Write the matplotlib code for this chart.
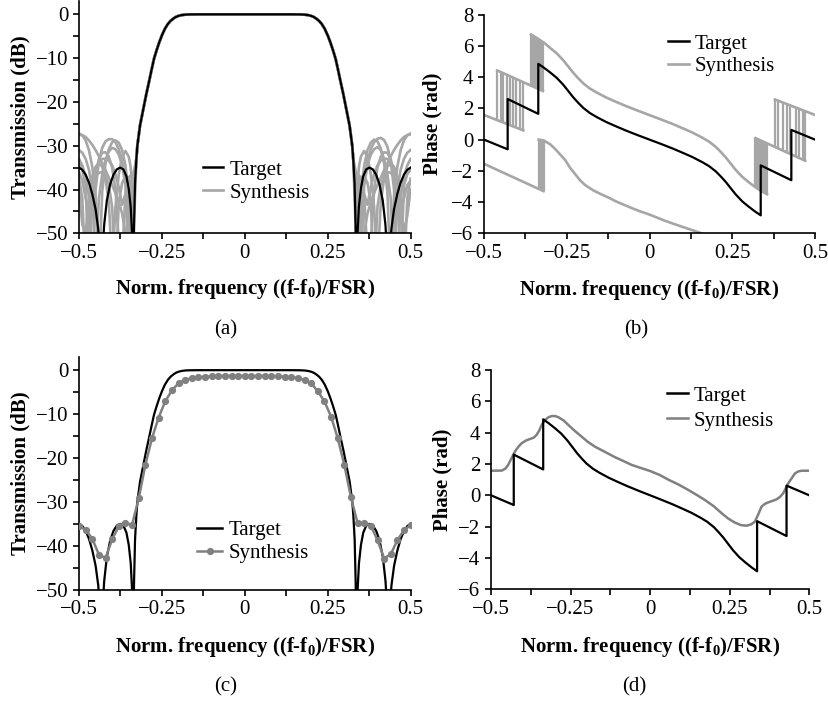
import numpy as np
import matplotlib
matplotlib.use("Agg")
import matplotlib.pyplot as plt
from matplotlib.ticker import FixedLocator
from matplotlib.lines import Line2D

plt.rcParams['font.family'] = ['Liberation Serif', 'DejaVu Serif']
plt.rcParams['mathtext.fontset'] = 'custom'
plt.rcParams['mathtext.rm'] = 'Liberation Serif'
plt.rcParams['mathtext.bf'] = 'Liberation Serif:bold'
plt.rcParams['mathtext.it'] = 'Liberation Serif:italic'

FS = 15
BLACK = '#000000'
GRAY_LIGHT = '#a6a6a6'
GRAY_DARK = '#808080'

# ---------------- data ----------------
x_ticks = [-0.5, -0.25, 0, 0.25, 0.5]
x_ticklabels = ['\u22120.5', '\u22120.25', '0', '0.25', '0.5']
x_minor = [-0.375, -0.125, 0.125, 0.375]
db_ticks = [0, -10, -20, -30, -40, -50]
db_minor = [-5, -15, -25, -35, -45]
ph_ticks = [8, 6, 4, 2, 0, -2, -4, -6]
xlabel_text = r'Norm. frequency ((f-f$_\mathbf{0}$)/FSR)'

# Target transmission (dB)
target_x = [-0.500, -0.490, -0.480, -0.470, -0.460, -0.450, -0.442, -0.437, -0.433, -0.429,
            -0.424, -0.416, -0.406, -0.396, -0.386, -0.376, -0.366, -0.357, -0.350, -0.344,
            -0.340, -0.337, -0.334, -0.331, -0.327, -0.324, -0.316, -0.306, -0.297, -0.288,
            -0.281, -0.274, -0.266, -0.258, -0.250, -0.241, -0.232, -0.224, -0.216, -0.208,
            -0.200, -0.190, -0.180, -0.165, -0.140, 0.000, 0.140, 0.165, 0.180, 0.190,
            0.200, 0.208, 0.216, 0.224, 0.232, 0.241, 0.250, 0.258, 0.266, 0.274,
            0.281, 0.288, 0.297, 0.306, 0.316, 0.324, 0.327, 0.331, 0.334, 0.337,
            0.340, 0.344, 0.350, 0.357, 0.366, 0.376, 0.386, 0.396, 0.406, 0.416,
            0.424, 0.429, 0.433, 0.437, 0.442, 0.450, 0.460, 0.470, 0.480, 0.490, 0.500]
target_db = [-35.0, -35.5, -36.6, -38.4, -41.0, -44.5, -49.0, -54.0, -65.0, -54.0,
             -48.0, -42.5, -38.8, -36.6, -35.4, -35.0, -35.4, -37.0, -39.8, -44.0,
             -50.0, -65.0, -48.0, -38.5, -33.0, -30.0, -25.4, -21.6, -18.2, -15.1,
             -12.6, -10.2, -8.2, -6.4, -4.8, -3.3, -2.2, -1.5, -1.0, -0.6,
             -0.35, -0.17, -0.07, -0.02, 0.0, 0.0, 0.0, -0.02, -0.07, -0.17,
             -0.35, -0.6, -1.0, -1.5, -2.2, -3.3, -4.8, -6.4, -8.2, -10.2,
             -12.6, -15.1, -18.2, -21.6, -25.4, -30.0, -33.0, -38.5, -48.0, -65.0,
             -50.0, -44.0, -39.8, -37.0, -35.4, -35.0, -35.4, -36.6, -38.8, -42.5,
             -48.0, -54.0, -65.0, -54.0, -49.0, -44.5, -41.0, -38.4, -36.6, -35.5, -35.0]

# Synthesis trials (a): stop-band values, left and right
syn_left_x = [-0.50, -0.49, -0.48, -0.47, -0.46, -0.45, -0.44, -0.43, -0.42, -0.41,
              -0.40, -0.39, -0.38, -0.37, -0.36, -0.35, -0.345, -0.34, -0.335]
syn_right_x = [0.335, 0.34, 0.345, 0.35, 0.36, 0.37, 0.38, 0.39, 0.40, 0.41,
               0.42, 0.43, 0.44, 0.45, 0.46, 0.47, 0.48, 0.49, 0.50]
syn_left_db = [
    [-27.2, -27.6, -28.8, -31.0, -34.8, -41.5, -60.0, -40.5, -34.0, -30.8, -29.2, -28.8, -29.3, -31.0, -34.5, -41.0, -47.0, -60.0, -42.0],
    [-27.5, -27.6, -28.0, -28.8, -29.8, -31.0, -32.4, -34.0, -35.6, -37.3, -39.0, -40.8, -42.8, -45.5, -50.0, -60.0, -50.0, -44.0, -40.0],
    [-31.0, -31.6, -33.0, -35.5, -40.0, -58.0, -42.0, -36.5, -33.2, -31.3, -30.5, -30.8, -32.0, -34.5, -39.0, -58.0, -45.0, -39.0, -36.0],
    [-34.0, -35.5, -39.0, -60.0, -40.0, -35.5, -33.8, -33.0, -33.0, -33.4, -34.5, -36.5, -39.5, -43.5, -41.0, -37.5, -36.8, -37.5, -40.0],
    [-36.0, -38.0, -42.0, -45.0, -42.5, -36.5, -33.0, -31.6, -31.5, -32.5, -35.0, -40.0, -52.0, -55.0, -41.5, -38.5, -38.3, -39.5, -42.0],
    [-37.5, -42.0, -60.0, -44.0, -39.0, -37.0, -36.2, -36.0, -36.8, -39.0, -44.0, -60.0, -43.0, -38.5, -37.0, -37.2, -38.5, -41.0, -46.0],
    [-40.0, -48.0, -50.0, -42.0, -37.0, -34.8, -34.0, -34.8, -37.5, -43.0, -58.0, -44.0, -36.5, -32.5, -31.2, -32.5, -34.5, -38.0, -50.0],
    [-33.0, -34.5, -37.0, -41.5, -60.0, -40.0, -33.5, -30.5, -29.0, -28.5, -28.5, -29.2, -30.8, -33.5, -38.0, -47.0, -60.0, -45.0, -39.0],
]
syn_right_db = [
    [-42.0, -60.0, -47.0, -41.0, -34.5, -31.0, -29.3, -28.6, -29.0, -30.6, -34.0, -40.5, -60.0, -41.5, -34.8, -31.0, -28.8, -27.6, -27.2],
    [-40.0, -44.0, -50.0, -60.0, -50.0, -45.5, -42.8, -40.8, -39.0, -37.3, -35.6, -34.0, -32.4, -31.0, -29.8, -28.8, -28.0, -27.6, -27.4],
    [-36.0, -39.0, -45.0, -58.0, -39.0, -34.5, -32.0, -30.8, -30.3, -31.0, -33.0, -36.5, -42.0, -58.0, -40.0, -35.5, -33.0, -31.6, -31.0],
    [-40.0, -37.5, -36.8, -37.5, -41.0, -43.5, -39.5, -36.5, -34.5, -33.4, -33.0, -33.0, -33.8, -35.5, -40.0, -60.0, -39.0, -36.5, -35.5],
    [-42.0, -39.5, -38.3, -38.5, -41.5, -55.0, -52.0, -40.0, -35.0, -32.5, -31.5, -31.6, -33.0, -36.5, -42.5, -45.0, -42.0, -39.0, -38.0],
    [-46.0, -41.0, -38.5, -37.2, -37.0, -38.5, -43.0, -60.0, -44.0, -39.0, -36.8, -36.0, -36.2, -37.0, -39.0, -44.0, -60.0, -42.0, -37.5],
    [-50.0, -38.0, -34.5, -32.5, -31.2, -32.5, -36.5, -44.0, -58.0, -43.0, -37.5, -34.8, -34.0, -34.8, -37.0, -42.0, -50.0, -46.0, -40.0],
    [-39.0, -45.0, -60.0, -47.0, -38.0, -33.5, -30.8, -29.2, -28.4, -28.2, -28.7, -30.2, -33.5, -40.0, -60.0, -41.5, -37.0, -34.5, -33.0],
]

# Synthesis (c): sampled every 0.02
syn_c_x = np.linspace(-0.5, 0.5, 51)
syn_c_db = [-35.6, -36.3, -38.4, -42.0, -42.8, -38.5, -35.6, -34.8, -35.2, -29.2,
            -21.6, -15.5, -10.8, -7.1, -4.6, -3.0, -2.2, -1.8, -1.6, -1.5,
            -1.4, -1.35, -1.3, -1.3, -1.3, -1.3, -1.3, -1.3, -1.3, -1.35,
            -1.4, -1.5, -1.6, -1.8, -2.2, -3.0, -4.8, -7.1, -10.6, -15.5,
            -21.6, -29.0, -34.9, -34.7, -35.5, -38.7, -42.9, -41.9, -38.7, -36.4, -35.3]

# Target phase (rad)
phase_x = [-0.500, -0.4285, -0.4285, -0.336, -0.336, -0.320, -0.300, -0.280, -0.260, -0.245,
           -0.230, -0.215, -0.200, -0.180, -0.160, -0.130, -0.100, -0.070, -0.035, 0.000,
           0.035, 0.070, 0.100, 0.130, 0.160, 0.180, 0.200, 0.215, 0.230, 0.245,
           0.260, 0.280, 0.300, 0.320, 0.336, 0.336, 0.4285, 0.4285, 0.500]
phase_target = [0.00, -0.62, 2.60, 1.65, 4.85, 4.62, 4.30, 3.95, 3.50, 3.10,
                2.70, 2.35, 2.03, 1.70, 1.45, 1.12, 0.84, 0.57, 0.28, 0.00,
                -0.28, -0.57, -0.84, -1.12, -1.45, -1.70, -2.03, -2.35, -2.70, -3.10,
                -3.50, -3.95, -4.30, -4.62, -4.85, -1.65, -2.60, 0.62, 0.00]

# Synthesis phase trials (b): branches and the jumps between them
branch_A_x = [-0.500, -0.3813]
branch_A_y = [1.58, 0.59]
branch_B_x = [-0.460, -0.322]
branch_B_y = [4.43, 3.11]
branch_C_x = [-0.358, -0.336, -0.316, -0.300, -0.280, -0.260, -0.245, -0.230, -0.215, -0.200,
              -0.180, -0.160, -0.130, -0.100, -0.070, -0.035, 0.000, 0.035, 0.070, 0.100,
              0.130, 0.160, 0.180, 0.200, 0.215, 0.230, 0.245, 0.260, 0.280, 0.300,
              0.320, 0.336, 0.355]
branch_C_y = [6.74, 6.45, 6.16, 5.87, 5.52, 5.07, 4.67, 4.27, 3.92, 3.60,
              3.27, 3.02, 2.69, 2.41, 2.14, 1.85, 1.57, 1.29, 1.00, 0.73,
              0.45, 0.12, -0.13, -0.46, -0.78, -1.13, -1.53, -1.93, -2.38, -2.73,
              -3.05, -3.28, -3.50]
branch_D_x = [0.320, 0.470]
branch_D_y = [0.10, -1.35]
branch_E_x = [0.379, 0.500]
branch_E_y = [2.57, 1.58]
branch_L1_x = [-0.500, -0.320]
branch_L1_y = [-1.55, -3.30]
branch_L2_x = [-0.335, -0.320, -0.300, -0.285, -0.270, -0.255, -0.240, -0.225, -0.210, -0.195,
               -0.170, -0.144, -0.120, -0.104, -0.080, -0.054, -0.030, 0.000, 0.047, 0.097, 0.148, 0.170]
branch_L2_y = [0.00, -0.05, -0.30, -0.60, -0.95, -1.30, -1.80, -2.20, -2.60, -2.90,
               -3.25, -3.52, -3.75, -3.93, -4.15, -4.38, -4.58, -4.80, -5.20, -5.57, -5.93, -6.10]
jump_x = [-0.460, -0.4496, -0.4417, -0.4296, -0.4215, -0.4115, -0.4033, -0.3912, -0.3813,
          -0.358, -0.352, -0.347, -0.343, -0.338, -0.333, -0.328, -0.322,
          0.320, 0.325, 0.330, 0.335, 0.340, 0.345, 0.350, 0.355,
          0.379, 0.389, 0.404, 0.414, 0.424, 0.443, 0.453, 0.465, 0.470,
          -0.335, -0.330, -0.325, -0.320]
jump_lo = [1.25, 1.16, 1.09, 0.99, 0.93, 0.84, 0.77, 0.67, 0.59,
           3.45, 3.40, 3.35, 3.31, 3.26, 3.21, 3.17, 3.11,
           -3.05, -3.12, -3.19, -3.26, -3.32, -3.38, -3.44, -3.50,
           -0.47, -0.57, -0.71, -0.81, -0.91, -1.09, -1.19, -1.30, -1.35,
           -3.15, -3.20, -3.25, -3.30]
jump_hi = [4.43, 4.33, 4.26, 4.14, 4.06, 3.97, 3.89, 3.77, 3.68,
           6.74, 6.66, 6.60, 6.55, 6.48, 6.42, 6.35, 6.26,
           0.10, 0.05, 0.00, -0.05, -0.09, -0.14, -0.19, -0.24,
           2.57, 2.49, 2.36, 2.28, 2.20, 2.05, 1.96, 1.87, 1.83,
           0.00, 0.00, 0.00, -0.05]

# Synthesis phase (d)
phase_d_x = [-0.500, -0.466, -0.455, -0.446, -0.436, -0.425, -0.414, -0.404, -0.390, -0.377,
             -0.366, -0.357, -0.348, -0.341, -0.334, -0.328, -0.318, -0.309, -0.298, -0.288,
             -0.272, -0.257, -0.236, -0.215, -0.195, -0.173, -0.140, -0.110, -0.080, -0.058,
             -0.030, 0.000, 0.030, 0.057, 0.090, 0.120, 0.150, 0.172, 0.200, 0.225,
             0.245, 0.266, 0.285, 0.303, 0.318, 0.329, 0.340, 0.350, 0.360, 0.371,
             0.385, 0.397, 0.408, 0.418, 0.426, 0.434, 0.445, 0.455, 0.466, 0.476, 0.500]
phase_d_syn = [1.57, 1.58, 1.70, 1.94, 2.35, 2.79, 3.10, 3.32, 3.50, 3.60,
               3.68, 3.85, 4.15, 4.49, 4.70, 4.85, 5.00, 5.06, 5.06, 4.98,
               4.78, 4.49, 4.10, 3.74, 3.40, 3.10, 2.75, 2.43, 2.15, 1.94,
               1.75, 1.55, 1.30, 1.00, 0.68, 0.34, -0.02, -0.30, -0.70, -1.15,
               -1.48, -1.74, -1.90, -1.94, -1.85, -1.68, -1.20, -0.72, -0.55, -0.45,
               -0.35, -0.26, -0.10, 0.13, 0.45, 0.77, 1.10, 1.40, 1.53, 1.57, 1.57]

assert len(target_x) == len(target_db)
assert len(phase_x) == len(phase_target)
assert len(phase_d_x) == len(phase_d_syn)
assert len(syn_c_db) == 51

# ---------------- figure ----------------
W, H = 829, 702
fig = plt.figure(figsize=(W / 100, H / 100), dpi=100)


def add_ax(left, right, top, bottom):
    return fig.add_axes([left / W, 1 - bottom / H, (right - left) / W, (bottom - top) / H])


ax_a = add_ax(79, 410.6, 1.2, 233.3)
ax_b = add_ax(484, 815, 14.7, 233.3)
ax_c = add_ax(79, 410.7, 357.0, 589.7)
ax_d = add_ax(491, 809.3, 370.0, 589.3)


def style(ax, ylim, yticks, yminor, ylabel, ylab_x, xlab_y):
    for s in ['top', 'right']:
        ax.spines[s].set_visible(False)
    for s in ['left', 'bottom']:
        ax.spines[s].set_linewidth(1.2)
    ax.set_xlim(-0.5, 0.5)
    ax.set_ylim(*ylim)
    ax.xaxis.set_major_locator(FixedLocator(x_ticks))
    ax.set_xticklabels(x_ticklabels)
    ax.xaxis.set_minor_locator(FixedLocator(x_minor))
    ax.yaxis.set_major_locator(FixedLocator(yticks))
    if yminor:
        ax.yaxis.set_minor_locator(FixedLocator(yminor))
    ax.tick_params(which='both', direction='out', length=4.5, width=1.2, labelsize=FS, pad=3)
    ax.set_ylabel(ylabel, fontsize=FS, fontweight='bold')
    ax.set_xlabel(xlabel_text, fontsize=FS, fontweight='bold')
    ax.yaxis.set_label_coords(ylab_x, 0.5)
    ax.xaxis.set_label_coords(0.5, xlab_y)


def legend(ax, handles, anchor, hl, spacing):
    ax.legend(handles, ['Target', 'Synthesis'], loc='upper left', bbox_to_anchor=anchor,
              frameon=False, fontsize=FS, handlelength=hl, handletextpad=0.3,
              labelspacing=spacing, borderpad=0, borderaxespad=0)


tx = np.array(target_x)
tdb = np.array(target_db)
pass_mask = np.abs(tx) < 0.33

# (a)
for yl, yr in zip(syn_left_db, syn_right_db):
    xs = np.concatenate([syn_left_x, tx[pass_mask], syn_right_x])
    ys = np.concatenate([yl, tdb[pass_mask], yr])
    ax_a.plot(xs, ys, color=GRAY_LIGHT, lw=1.9, zorder=2)
ax_a.plot(target_x, target_db, color=BLACK, lw=1.6, zorder=3)
style(ax_a, (-50, 3), db_ticks, db_minor, 'Transmission (dB)', -0.146, -0.19)
legend(ax_a, [Line2D([], [], color=BLACK, lw=1.8), Line2D([], [], color=GRAY_LIGHT, lw=1.9)],
       (0.375, 0.315), 0.95, 0.16)

# (b)
seg_kw = dict(color=GRAY_LIGHT, lw=1.9, zorder=2)
ax_b.plot(branch_A_x, branch_A_y, **seg_kw)
ax_b.plot(branch_B_x, branch_B_y, **seg_kw)
ax_b.plot(branch_C_x, branch_C_y, **seg_kw)
ax_b.plot(branch_D_x, branch_D_y, **seg_kw)
ax_b.plot(branch_E_x, branch_E_y, **seg_kw)
ax_b.plot(branch_L1_x, branch_L1_y, **seg_kw)
ax_b.plot(branch_L2_x, branch_L2_y, **seg_kw)
ax_b.vlines(jump_x, jump_lo, jump_hi, colors=GRAY_LIGHT, lw=1.6, zorder=2)
ax_b.plot(phase_x, phase_target, color=BLACK, lw=1.6, zorder=3)
style(ax_b, (-6, 8), ph_ticks, None, 'Phase (rad)', -0.125, -0.205)
legend(ax_b, [Line2D([], [], color=BLACK, lw=1.8), Line2D([], [], color=GRAY_LIGHT, lw=1.9)],
       (0.556, 0.912), 1.0, 0.16)

# (c)
ax_c.plot(target_x, target_db, color=BLACK, lw=1.6, zorder=3)
ax_c.plot(syn_c_x, syn_c_db, color=GRAY_DARK, lw=1.8, marker='o', markersize=5.2,
          markeredgewidth=0, zorder=4)
style(ax_c, (-50, 3), db_ticks, db_minor, 'Transmission (dB)', -0.146, -0.195)
legend(ax_c, [Line2D([], [], color=BLACK, lw=1.8),
              Line2D([], [], color=GRAY_DARK, lw=1.8, marker='o', markersize=5.2, markeredgewidth=0)],
       (0.356, 0.296), 1.2, 0.16)

# (d)
ax_d.plot(phase_x, phase_target, color=BLACK, lw=1.6, zorder=3)
ax_d.plot(phase_d_x, phase_d_syn, color=GRAY_DARK, lw=1.8, zorder=2)
style(ax_d, (-6, 8), ph_ticks, None, 'Phase (rad)', -0.121, -0.208)
legend(ax_d, [Line2D([], [], color=BLACK, lw=1.8), Line2D([], [], color=GRAY_DARK, lw=1.8)],
       (0.553, 0.927), 1.0, 0.26)

# panel labels
for lab, px, py in [('(a)', 226, 330), ('(b)', 636, 330), ('(c)', 226, 687), ('(d)', 634, 687)]:
    fig.text(px / W, 1 - py / H, lab, fontsize=FS, ha='center', va='center')

fig.savefig('out.png', dpi=100)
